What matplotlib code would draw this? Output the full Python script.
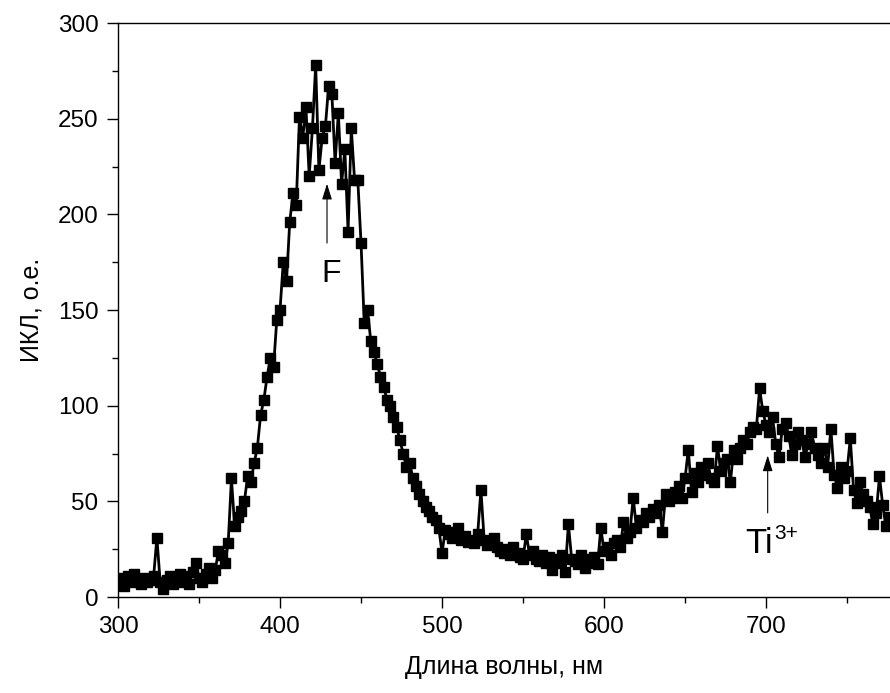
import numpy as np
import matplotlib
matplotlib.use("Agg")
import matplotlib.pyplot as plt

plt.rcParams['font.family'] = ['Liberation Sans', 'DejaVu Sans']

# Длина волны, нм (шаг 2 нм)
wavelength = np.arange(300, 780, 2)

# ИКЛ, о.е.
intensity = [
    7, 10, 6, 11, 8, 12, 9, 7, 10, 8,            # 300-318
    9, 11, 31, 8, 4, 9, 11, 7, 10, 12,           # 320-338
    8, 11, 7, 13, 18, 10, 8, 12, 15, 10,         # 340-358
    14, 24, 22, 18, 28, 62, 37, 42, 45, 50,      # 360-378
    63, 60, 70, 78, 95, 103, 115, 125, 120, 145, # 380-398
    150, 175, 165, 196, 211, 205, 251, 240, 256, 220,  # 400-418
    245, 278, 223, 240, 246, 267, 263, 227, 253, 216,  # 420-438
    234, 191, 245, 218, 218, 185, 143, 150, 134, 128,  # 440-458
    122, 115, 110, 103, 100, 94, 89, 82, 75, 68, # 460-478
    70, 62, 58, 54, 50, 47, 45, 42, 40, 36,      # 480-498
    23, 35, 33, 31, 34, 36, 30, 32, 29, 30,      # 500-518
    28, 33, 56, 30, 27, 29, 31, 26, 24, 23,      # 520-538
    25, 22, 26, 23, 21, 20, 33, 22, 24, 20,      # 540-558
    19, 22, 18, 21, 14, 20, 18, 22, 13, 38,      # 560-578
    20, 19, 17, 22, 15, 20, 18, 21, 17, 36,      # 580-598
    24, 26, 22, 28, 30, 26, 39, 31, 34, 52,      # 600-618
    36, 40, 39, 44, 42, 46, 44, 48, 34, 54,      # 620-638
    50, 52, 55, 58, 52, 62, 77, 55, 65, 60,      # 640-658
    68, 64, 70, 62, 60, 79, 66, 70, 72, 60,      # 660-678
    77, 72, 78, 82, 80, 86, 89, 88, 109, 97,     # 680-698
    90, 86, 94, 80, 73, 88, 91, 84, 74, 80,      # 700-718
    86, 82, 73, 80, 86, 78, 74, 70, 78, 68,      # 720-738
    88, 64, 57, 68, 62, 66, 83, 56, 49, 60,      # 740-758
    54, 50, 47, 38, 44, 63, 48, 37, 42, 40,      # 760-778
]

fig = plt.figure(figsize=(8.9, 6.93), dpi=100)
ax = fig.add_axes([0.1326, 0.1385, 0.8674, 0.8283])

ax.plot(wavelength, intensity, color='black', lw=2.0, marker='s', ms=6.5)

ax.set_xlim(300, 776.5)
ax.set_ylim(0, 300)
ax.set_xticks([300, 400, 500, 600, 700])
ax.set_xticks(np.arange(350, 800, 100), minor=True)
ax.set_yticks(np.arange(0, 301, 50))
ax.set_yticks(np.arange(25, 300, 50), minor=True)

ax.spines['right'].set_visible(False)
for s in ['left', 'bottom', 'top']:
    ax.spines[s].set_linewidth(1.0)
ax.tick_params(which='major', direction='out', length=8, width=1.0, labelsize=17.5, pad=6)
ax.tick_params(which='minor', direction='out', length=4, width=1.0)
ax.tick_params(top=False, right=False)

ax.set_xlabel('Длина волны, нм', fontsize=18, labelpad=12)
ax.set_ylabel('ИКЛ, о.е.', fontsize=18, labelpad=10)

# Подписи полос
arrow = dict(arrowstyle='-|>,head_length=0.8,head_width=0.25', color='black',
             lw=0.8, mutation_scale=12, shrinkA=0, shrinkB=0)
ax.annotate('', xy=(429, 216), xytext=(429, 185), arrowprops=arrow)
ax.text(431.5, 164.6, 'F', fontsize=23, ha='center', va='baseline')
ax.annotate('', xy=(701, 74), xytext=(701, 44), arrowprops=arrow)
ax.text(687, 23, 'Ti', fontsize=25, ha='left', va='baseline')
ax.annotate('3+', xy=(687, 23), xytext=(21, 10), textcoords='offset points',
            fontsize=15, ha='left', va='baseline')

fig.savefig('out.png', dpi=100)
